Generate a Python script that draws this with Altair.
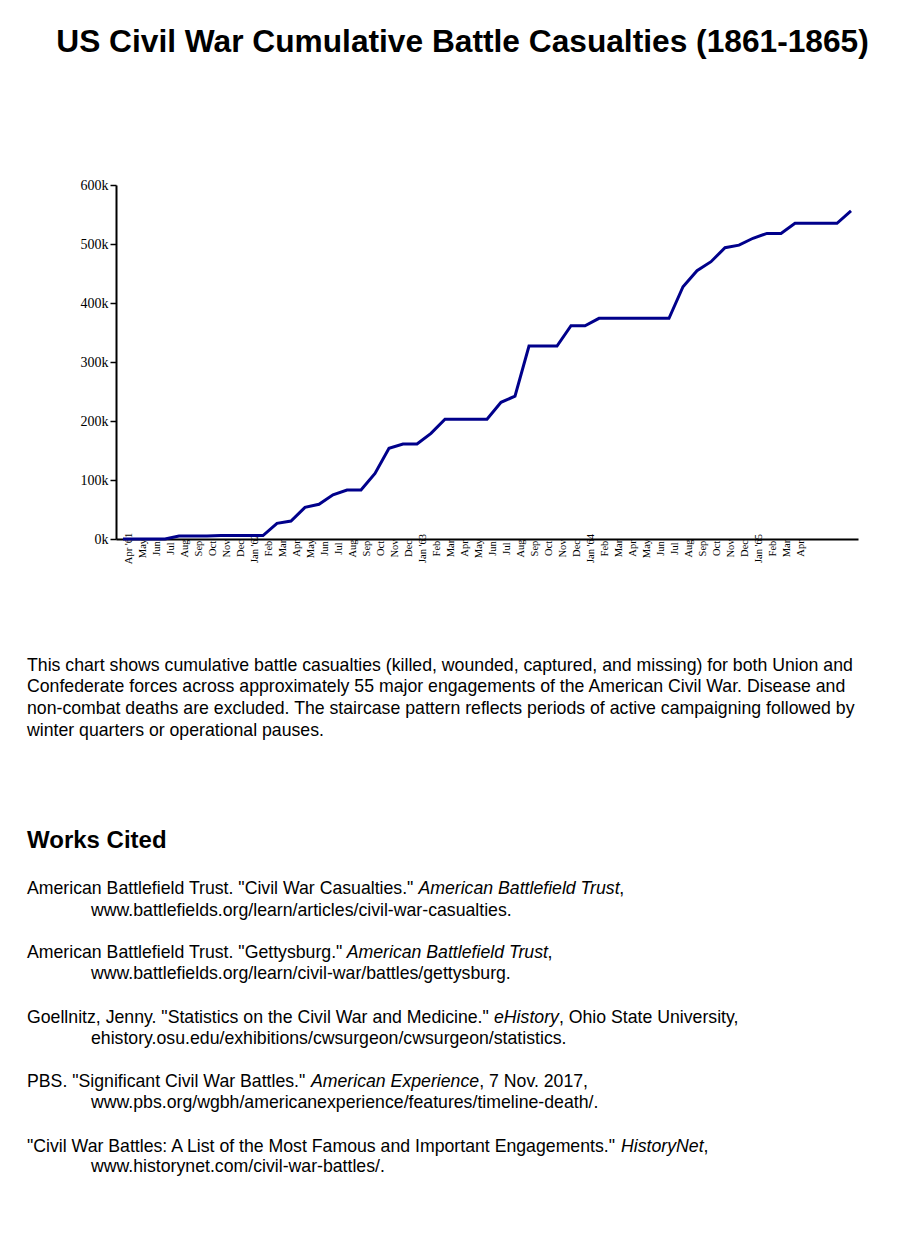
import json
import altair as alt
import pandas as pd

# ---- data -------------------------------------------------------------
month_keys = [f"{y}-{m:02d}" for y in range(1861, 1866) for m in range(1, 13)]
month_keys = [k for k in month_keys if "1861-04" <= k <= "1865-08"]  # 53 months

month_labels = [
    "Apr '61", "May", "Jun", "Jul", "Aug", "Sep", "Oct", "Nov", "Dec",
    "Jan '62", "Feb", "Mar", "Apr", "May", "Jun", "Jul", "Aug", "Sep", "Oct", "Nov", "Dec",
    "Jan '63", "Feb", "Mar", "Apr", "May", "Jun", "Jul", "Aug", "Sep", "Oct", "Nov", "Dec",
    "Jan '64", "Feb", "Mar", "Apr", "May", "Jun", "Jul", "Aug", "Sep", "Oct", "Nov", "Dec",
    "Jan '65", "Feb", "Mar", "Apr", "", "", "", "",
]

casualties_k = [
    0, 0, 0, 0, 4.9, 5.0, 5.2, 5.9, 5.9,
    5.9, 5.9, 26.6, 30.5, 53.7, 58.8, 75, 83, 83, 111, 153.7, 161,
    161, 179, 203, 203, 203, 203, 231.7, 242, 327, 327, 327, 361.5,
    361.5, 374, 374, 374, 374, 374, 374, 427.6, 454.7, 470, 493.7, 498,
    509.7, 518, 518, 535, 535, 535, 535, 556,
]

df = pd.DataFrame({
    "month": month_keys,
    "casualties": [v * 1000 for v in casualties_k],
})

label_map = json.dumps(dict(zip(month_keys, month_labels)))

title_text = "US Civil War Cumulative Battle Casualties (1861-1865)"
paragraph_lines = [
    "This chart shows cumulative battle casualties (killed, wounded, captured, and missing) for both Union and",
    "Confederate forces across approximately 55 major engagements of the American Civil War. Disease and",
    "non-combat deaths are excluded. The staircase pattern reflects periods of active campaigning followed by",
    "winter quarters or operational pauses.",
]
cited_heading = "Works Cited"
# each citation: (regular prefix, italic title, regular suffix, second line)
citations = [
    ('American Battlefield Trust. "Civil War Casualties." ', "American Battlefield Trust", ",",
     "www.battlefields.org/learn/articles/civil-war-casualties."),
    ('American Battlefield Trust. "Gettysburg." ', "American Battlefield Trust", ",",
     "www.battlefields.org/learn/civil-war/battles/gettysburg."),
    ('Goellnitz, Jenny. "Statistics on the Civil War and Medicine." ', "eHistory", ", Ohio State University,",
     "ehistory.osu.edu/exhibitions/cwsurgeon/cwsurgeon/statistics."),
    ('PBS. "Significant Civil War Battles." ', "American Experience", ", 7 Nov. 2017,",
     "www.pbs.org/wgbh/americanexperience/features/timeline-death/."),
    ('"Civil War Battles: A List of the Most Famous and Important Engagements." ', "HistoryNet", ",",
     "www.historynet.com/civil-war-battles/."),
]

# ---- layout ------------------------------------------------------------
SANS = "Liberation Sans"
SERIF = "Liberation Serif"
OX, OY = 116, 185          # page position of plot origin
W, H = 742, 354

def txt(s, px, py, size, weight="normal", style="normal", align="left"):
    return alt.Chart(alt.Data(values=[{}])).mark_text(
        text=s, align=align, baseline="alphabetic", fontSize=size,
        fontWeight=weight, fontStyle=style, font=SANS, color="black",
    ).encode(x=alt.value(px - OX), y=alt.value(py - OY))

line = alt.Chart(df).mark_line(color="#00008b", strokeWidth=3).encode(
    x=alt.X("month:O", sort=None, title=None,
            scale=alt.Scale(type="point", padding=0.5),
            axis=alt.Axis(labelExpr=label_map + "[datum.value]", labelAngle=270,
                          labelAlign="center", labelBaseline="top",
                          labelPadding=9, ticks=False,
                          labelFont=SERIF, labelFontSize=10.5, labelColor="black",
                          labelOverlap=False, labelBound=False, labelFlush=False,
                          domainColor="black", domainWidth=2, grid=False)),
    y=alt.Y("casualties:Q", title=None,
            scale=alt.Scale(domain=[0, 600000], nice=False),
            axis=alt.Axis(values=[0, 100000, 200000, 300000, 400000, 500000, 600000],
                          labelExpr="(datum.value / 1000) + 'k'",
                          labelFont=SERIF, labelFontSize=14, labelColor="black",
                          labelPadding=2, tickSize=6, tickWidth=1.5, tickColor="black",
                          domainColor="black", domainWidth=2, grid=False)),
)

layers = [line, txt(title_text, 462.5, 52, 31.7, weight="bold", align="center")]

para_base = [670.5, 692.3, 714.2, 736]
for s, yb in zip(paragraph_lines, para_base):
    layers.append(txt(s, 27, yb, 17.7))

layers.append(txt(cited_heading, 27, 847.5, 24, weight="bold"))

cite_y1 = [894, 958, 1023, 1087, 1152]
cite_y2 = [916, 979, 1044, 1108, 1172]
italic_x = [418.4, 346.7, 494.0, 311.0, 621.0]
suffix_x = [619.3, 547.6, 558.9, 479.2, 703.6]
for (pre, ital, suf, second), y1, y2, xi, xs in zip(citations, cite_y1, cite_y2, italic_x, suffix_x):
    layers.append(txt(pre, 27, y1, 17.7))
    layers.append(txt(ital, xi, y1, 17.7, style="italic"))
    layers.append(txt(suf, xs, y1, 17.7))
    layers.append(txt(second, 91, y2, 17.7))

chart = alt.layer(*layers).properties(
    width=W, height=H,
    autosize=alt.AutoSizeParams(type="none"),
    padding={"left": OX - 8, "top": OY - 8, "right": 52, "bottom": 1230 - (OY - 8) - H},
    background="white",
).configure_view(stroke=None)

chart.save("out.html", embed_options={"renderer": "svg", "actions": False})
